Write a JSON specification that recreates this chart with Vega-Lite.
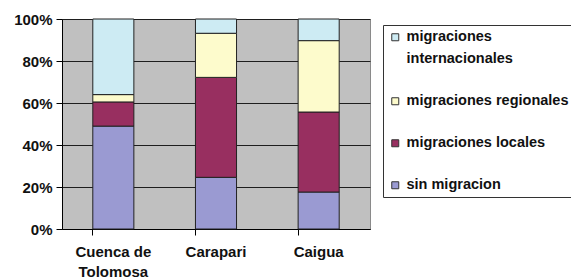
{
  "$schema": "https://vega.github.io/schema/vega-lite/v6.json",
  "width": 308,
  "height": 210,
  "autosize": {"type": "none"},
  "padding": {"left": 62, "top": 19, "right": 201, "bottom": 51},
  "background": "#ffffff",
  "config": {
    "font": "Liberation Sans",
    "view": {"fill": "#c0c0c0", "stroke": "#8a8a8a", "strokeWidth": 1},
    "style": {"guide-label": {"lineHeight": 22}}
  },
  "data": {
    "values": [
      {"zona": "Cuenca de Tolomosa", "tipo": "sin migracion", "orden": 1, "valor": 49},
      {"zona": "Cuenca de Tolomosa", "tipo": "migraciones locales", "orden": 2, "valor": 11.5},
      {"zona": "Cuenca de Tolomosa", "tipo": "migraciones regionales", "orden": 3, "valor": 3.5},
      {"zona": "Cuenca de Tolomosa", "tipo": "migraciones internacionales", "orden": 4, "valor": 36},
      {"zona": "Carapari", "tipo": "sin migracion", "orden": 1, "valor": 24.6},
      {"zona": "Carapari", "tipo": "migraciones locales", "orden": 2, "valor": 47.6},
      {"zona": "Carapari", "tipo": "migraciones regionales", "orden": 3, "valor": 21},
      {"zona": "Carapari", "tipo": "migraciones internacionales", "orden": 4, "valor": 6.8},
      {"zona": "Caigua", "tipo": "sin migracion", "orden": 1, "valor": 17.6},
      {"zona": "Caigua", "tipo": "migraciones locales", "orden": 2, "valor": 38.1},
      {"zona": "Caigua", "tipo": "migraciones regionales", "orden": 3, "valor": 34},
      {"zona": "Caigua", "tipo": "migraciones internacionales", "orden": 4, "valor": 10.3}
    ]
  },
  "mark": {"type": "bar", "stroke": "#222222", "strokeWidth": 1},
  "encoding": {
    "x": {
      "field": "zona",
      "type": "nominal",
      "sort": null,
      "scale": {"paddingInner": 0.6, "paddingOuter": 0.3},
      "axis": {
        "title": null,
        "labelAngle": 0,
        "bandPosition": 0,
        "labelFont": "Liberation Sans",
        "labelFontSize": 15,
        "labelFontWeight": "bold",
        "labelColor": "#111111",
        "labelPadding": 9,
        "labelLineHeight": 20,
        "labelExpr": "datum.label == 'Cuenca de Tolomosa' ? ['Cuenca de', 'Tolomosa'] : datum.label",
        "tickSize": 6,
        "tickColor": "#000000",
        "domainColor": "#000000",
        "grid": false
      }
    },
    "y": {
      "field": "valor",
      "type": "quantitative",
      "stack": "zero",
      "scale": {"domain": [0, 100], "nice": false},
      "axis": {
        "title": null,
        "values": [0, 20, 40, 60, 80, 100],
        "labelExpr": "datum.value + '%'",
        "labelFont": "Liberation Sans",
        "labelFontSize": 15,
        "labelFontWeight": "bold",
        "labelColor": "#111111",
        "labelPadding": 4,
        "tickSize": 6,
        "tickColor": "#000000",
        "domainColor": "#000000",
        "grid": true,
        "gridColor": "#1e1e1e",
        "gridWidth": 1,
        "gridOpacity": 1
      }
    },
    "order": {"field": "orden", "type": "quantitative", "sort": "ascending"},
    "color": {
      "field": "tipo",
      "type": "nominal",
      "scale": {
        "domain": ["migraciones internacionales", "migraciones regionales", "migraciones locales", "sin migracion"],
        "range": ["#cdebf3", "#fdfbcc", "#982f60", "#9a9ad2"]
      },
      "legend": {
        "title": null,
        "orient": "none",
        "legendX": 321,
        "legendY": 6,
        "fillColor": "#ffffff",
        "strokeColor": "#333333",
        "padding": 5,
        "rowPadding": 27,
        "symbolType": "square",
        "symbolSize": 49,
        "symbolStrokeColor": "#333333",
        "symbolStrokeWidth": 1,
        "symbolOffset": 0,
        "labelFont": "Liberation Sans",
        "labelFontSize": 14.5,
        "labelFontWeight": "bold",
        "labelColor": "#111111",
        "labelLimit": 300,
        "labelOffset": 4,
        "labelExpr": "datum.label == 'migraciones internacionales' ? ['migraciones', 'internacionales'] : datum.label"
      }
    }
  }
}
